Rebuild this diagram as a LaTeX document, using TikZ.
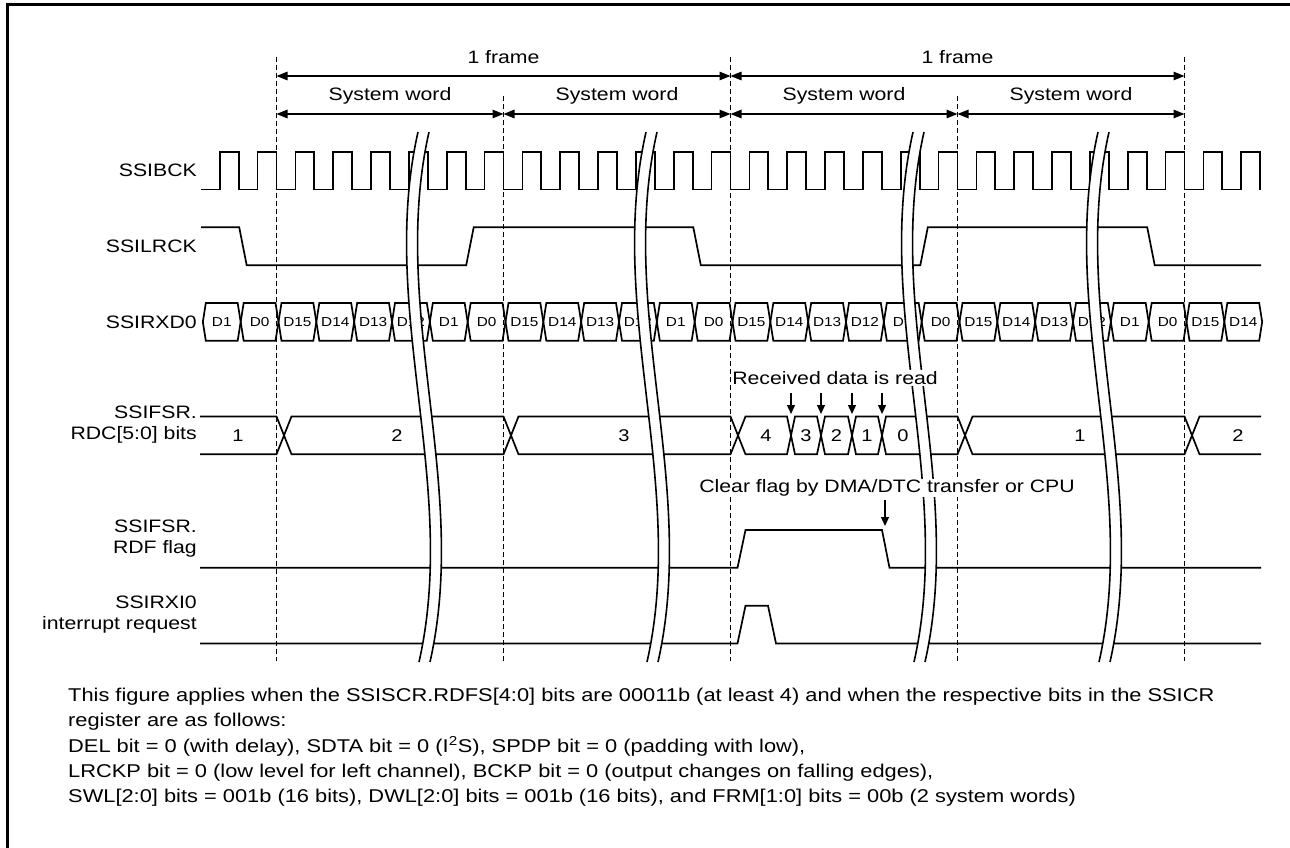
\documentclass[tikz,border=0pt]{standalone}
\usepackage{fontspec}
\setmainfont{Liberation Sans}[FakeStretch=1.18]
\usetikzlibrary{arrows.meta}
\begin{document}
\begin{tikzpicture}[x=1pt,y=-1pt,
  sig/.style={line width=1.7pt},
  brk/.style={line width=1.6pt},
  guide/.style={line width=1.3pt, dash pattern=on 5pt off 3pt},
  dim/.style={line width=1.3pt, {Triangle[length=11pt,width=8.5pt]}-{Triangle[length=11pt,width=8.5pt]}},
  pointer/.style={line width=1.3pt, -{Triangle[length=9pt,width=8pt]}},
  lbl/.style={font=\fontsize{18}{21}\selectfont, inner sep=0pt},
  sname/.style={lbl, anchor=east, align=right},
  cellt/.style={font=\fontsize{13}{13}\selectfont, inner sep=0pt},
  valt/.style={font=\fontsize{17}{17}\selectfont, inner sep=0pt},
]
\useasboundingbox (0,0) rectangle (1290,848);
% frame (top and left edges)
\draw[line width=3pt] (7,850) -- (7,5) -- (1292,5);

% signal names
\node[sname] (nbck) at (197,170) {SSIBCK};
\node[sname] (nlrck) at (197,246) {SSILRCK};
\node[sname] (nrxd) at (197,322) {SSIRXD0};
\node[sname] (nrdc) at (197,425) {SSIFSR.\\RDC[5:0] bits};
\node[sname] (nrdf) at (197,539) {SSIFSR.\\RDF flag};
\node[sname] (nrxi) at (197,615) {SSIRXI0\\interrupt request};

% SSIBCK
\draw[sig] (201,189.5) foreach \k in {-1,...,26}{
  -- ({257.5833+\k*37.8333},189.5) -- ({257.5833+\k*37.8333},151.7)
  -- ({276.5+\k*37.8333},151.7) -- ({276.5+\k*37.8333},189.5) };

% SSILRCK
\draw[sig] (201,227.3) -- (239.2,227.3) -- (246.7,265.2) -- (466.2,265.2) -- (473.7,227.3)
  -- (693.3,227.3) -- (700.8,265.2) -- (920.3,265.2) -- (927.8,227.3)
  -- (1147.2,227.3) -- (1154.7,265.2) -- (1261,265.2);

% SSIRXD0
\foreach \k/\t in {0/D1,1/D0,2/D15,3/D14,4/D13,5/D12,6/D1,7/D0,8/D15,9/D14,10/D13,11/D12,12/D1,13/D0,
  14/D15,15/D14,16/D13,17/D12,18/D1,19/D0,20/D15,21/D14,22/D13,23/D12,24/D1,25/D0,26/D15,27/D14}{
  \pgfmathsetmacro\xl{278.5+(\k-2)*37.8333}
  \pgfmathsetmacro\xr{278.5+(\k-1)*37.8333}
  \draw[sig] (\xl,321.9) -- ({\xl+3},303) -- ({\xr-3},303) -- (\xr,321.9) -- ({\xr-3},340.8) -- ({\xl+3},340.8) -- cycle;
  \node[cellt] (dc\k) at ({(\xl+\xr)/2},322.3) {\t};
}

% SSIFSR.RDC[5:0]
\def\Tt{416.5}\def\Bb{454.3}\def\Mm{435.4}
\draw[sig] (200,\Tt) -- (276.5,\Tt) -- (284,\Mm) -- (276.5,\Bb) -- (200,\Bb);
\draw[sig] (284,\Mm) -- (291.5,\Tt) -- (503.5,\Tt) -- (511,\Mm) -- (503.5,\Bb) -- (291.5,\Bb) -- cycle;
\draw[sig] (511,\Mm) -- (518.5,\Tt) -- (730.5,\Tt) -- (738,\Mm) -- (730.5,\Bb) -- (518.5,\Bb) -- cycle;
\draw[sig] (738,\Mm) -- (745.5,\Tt) -- (787,\Tt) -- (791,\Mm) -- (787,\Bb) -- (745.5,\Bb) -- cycle;
\draw[sig] (791,\Mm) -- (795,\Tt) -- (817,\Tt) -- (821,\Mm) -- (817,\Bb) -- (795,\Bb) -- cycle;
\draw[sig] (821,\Mm) -- (825,\Tt) -- (848,\Tt) -- (852,\Mm) -- (848,\Bb) -- (825,\Bb) -- cycle;
\draw[sig] (852,\Mm) -- (856,\Tt) -- (878,\Tt) -- (882,\Mm) -- (878,\Bb) -- (856,\Bb) -- cycle;
\draw[sig] (882,\Mm) -- (886,\Tt) -- (957.5,\Tt) -- (965,\Mm) -- (957.5,\Bb) -- (886,\Bb) -- cycle;
\draw[sig] (965,\Mm) -- (972.5,\Tt) -- (1184.5,\Tt) -- (1192,\Mm) -- (1184.5,\Bb) -- (972.5,\Bb) -- cycle;
\draw[sig] (1261,\Tt) -- (1199.5,\Tt) -- (1192,\Mm) -- (1199.5,\Bb) -- (1261,\Bb);
\foreach \i/\x/\v in {1/238/1,2/397/2,3/624/3,4/766/4,5/806/3,6/836.5/2,7/867/1,8/903/0,9/1080/1,10/1238/2}{
  \node[valt] (rv\i) at (\x,436) {\v};
}

% SSIFSR.RDF
\draw[sig] (200,567.8) -- (737.5,567.8) -- (745.5,530) -- (882,530) -- (889.5,567.8) -- (1261,567.8);
% SSIRXI0
\draw[sig] (200,643.5) -- (737.5,643.5) -- (745.5,605.7) -- (768,605.7) -- (776,643.5) -- (1261,643.5);

% breaks
\foreach \c in {418,646,913,1098}{
  \fill[white] (\c,132) .. controls ({\c-40},309) and ({\c+41},485) .. ({\c+1},662)
     -- ({\c+12},662) .. controls ({\c+52},485) and ({\c-29},309) .. ({\c+11},132) -- cycle;
  \draw[brk] (\c,132) .. controls ({\c-40},309) and ({\c+41},485) .. ({\c+1},662);
  \draw[brk] ({\c+11},132) .. controls ({\c-29},309) and ({\c+52},485) .. ({\c+12},662);
}

% guides and dimension arrows
\foreach \i/\x/\y in {0/276.5/57,1/503.5/96,2/730.5/57,3/957.5/96,4/1184.5/57}{
  \coordinate (gt\i) at (\x,\y);
  \coordinate (gb\i) at (\x,661);
  \coordinate (f\i) at (\x,76);
  \coordinate (w\i) at (\x,114);
  \draw[guide] (gt\i) -- (gb\i);
}
\draw[dim] (f0) -- (f2);
\draw[dim] (f2) -- (f4);
\draw[dim] (w0) -- (w1);
\draw[dim] (w1) -- (w2);
\draw[dim] (w2) -- (w3);
\draw[dim] (w3) -- (w4);
\node[lbl] (fr1) at (503.5,57) {1 frame};
\node[lbl] (fr2) at (957.5,57) {1 frame};
\node[lbl] (sw1) at (390,96) {System word};
\node[lbl] (sw2) at (617,96) {System word};
\node[lbl] (sw3) at (844,96) {System word};
\node[lbl] (sw4) at (1071,96) {System word};

% annotations
\node[lbl, fill=white, inner sep=1pt] (rd) at (835,378) {Received data is read};
\foreach \i/\x in {1/791,2/821,3/852,4/882}{
  \coordinate (ra\i) at (\x,393);
  \coordinate (rb\i) at (\x,414);
  \draw[pointer] (ra\i) -- (rb\i);
}
\node[lbl, fill=white, inner sep=1pt] (cf) at (887,488) {Clear flag by DMA/DTC transfer or CPU};
\coordinate (cfa) at (885,500);
\coordinate (cfb) at (885,526);
\draw[pointer] (cfa) -- (cfb);

% note
\node[lbl, anchor=north west, align=left, font=\fontsize{18.5}{25.3}\selectfont] (note) at (68,688)
{This figure applies when the SSISCR.RDFS[4:0] bits are 00011b (at least 4) and when the respective bits in the SSICR\\
register are as follows:\\
DEL bit = 0 (with delay), SDTA bit = 0 (I\textsuperscript{2}S), SPDP bit = 0 (padding with low),\\
LRCKP bit = 0 (low level for left channel), BCKP bit = 0 (output changes on falling edges),\\
SWL[2:0] bits = 001b (16 bits), DWL[2:0] bits = 001b (16 bits), and FRM[1:0] bits = 00b (2 system words)};
\end{tikzpicture}
\end{document}
